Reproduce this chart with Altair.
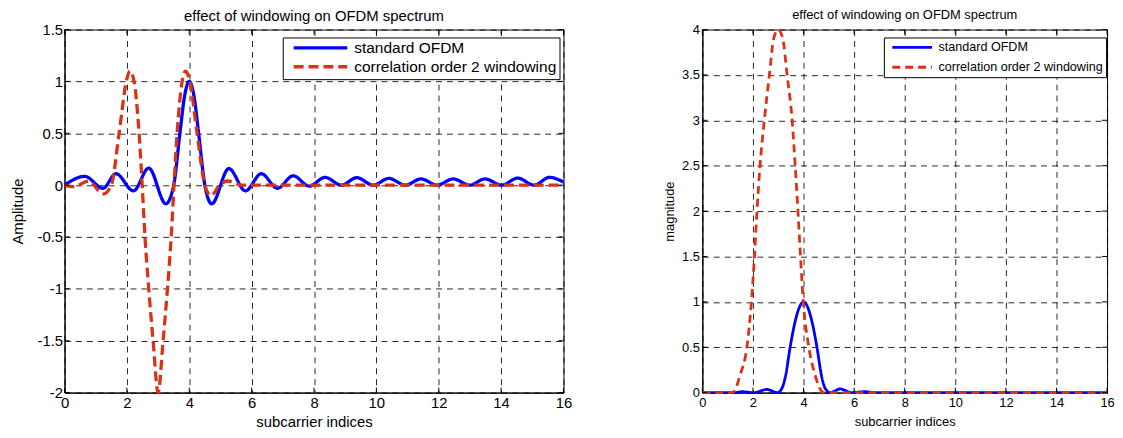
import altair as alt
import pandas as pd

SERIES = ["standard OFDM", "correlation order 2 windowing"]
COLORS = ["#0000ff", "#dc3214"]
FONT = "Liberation Sans"

x_ticks = [0, 2, 4, 6, 8, 10, 12, 14, 16]
left_y_ticks = [-2, -1.5, -1, -0.5, 0, 0.5, 1, 1.5]
right_y_ticks = [0, 0.5, 1, 1.5, 2, 2.5, 3, 3.5, 4]

# ---- left panel: Amplitude ----
left_std_x = [0.0, 0.65, 1.23, 1.65, 2.21, 2.7, 3.25, 3.5, 3.7, 3.85, 4.0, 4.15, 4.3, 4.5,
              4.72, 5.27, 5.8, 6.31, 6.83, 7.33, 7.85, 8.35, 8.88, 9.37, 9.9, 10.4, 10.93,
              11.43, 11.95, 12.46, 13.0, 13.48, 14.02, 14.53, 15.06, 15.55, 16.0]
left_std_y = [0.0, 0.085, -0.03, 0.11, -0.055, 0.165, -0.18, 0.0, 0.5, 0.86, 1.0, 0.86, 0.5, 0.0,
              -0.18, 0.16, -0.055, 0.11, -0.03, 0.09, -0.01, 0.075, 0.0, 0.072, 0.0, 0.065, 0.0,
              0.06, 0.0, 0.06, 0.0, 0.06, 0.0, 0.068, 0.0, 0.075, 0.03]
left_win_x = [0.0, 0.3, 0.77, 1.24, 1.5, 1.75, 1.98, 2.1, 2.23, 2.39, 2.49, 2.58, 2.7, 2.84, 3.0,
              3.16, 3.3, 3.42, 3.51, 3.61, 3.77, 3.88, 4.02, 4.25, 4.5, 4.7, 4.97, 5.22, 5.7,
              6.3, 16.0]
left_win_y = [0.0, -0.015, 0.04, -0.085, 0.0, 0.5, 1.0, 1.1, 1.0, 0.5, 0.0, -0.5, -1.0, -1.5, -2.0,
              -1.5, -1.0, -0.5, 0.0, 0.5, 1.0, 1.1, 1.0, 0.5, 0.0, -0.1, 0.0, 0.04, 0.0,
              0.0, 0.0]

# ---- right panel: magnitude ----
right_std_x = [0.0, 1.3, 1.55, 2.05, 2.55, 2.97, 3.15, 3.3, 3.47, 3.7, 3.85, 4.0, 4.15, 4.3, 4.53,
               4.7, 4.85, 5.05, 5.45, 5.9, 6.4, 6.9, 16.0]
right_std_y = [0.0, 0.0, 0.01, 0.0, 0.035, 0.0, 0.05, 0.2, 0.5, 0.82, 0.95, 1.0, 0.95, 0.82, 0.5,
               0.2, 0.05, 0.0, 0.04, 0.0, 0.01, 0.0, 0.0]
right_win_x = [0.0, 1.0, 1.2, 1.5, 1.76, 1.94, 2.06, 2.16, 2.28, 2.45, 2.65, 2.82, 3.0, 3.18, 3.35,
               3.55, 3.67, 3.78, 3.88, 3.99, 4.21, 4.45, 4.8, 16.0]
right_win_y = [0.0, 0.0, 0.0, 0.2, 0.5, 1.0, 1.5, 2.0, 2.5, 3.0, 3.5, 3.9, 4.0, 3.9, 3.5,
               3.0, 2.5, 2.0, 1.5, 1.0, 0.5, 0.2, 0.0, 0.0]


def make_panel(std_x, std_y, win_x, win_y, yticks, ydom, ytitle, W, H, fs, title_fs,
               title_off, lw, dash, grid_dash, leg_x, leg_y, leg_fs, sym_len, clip_h,
               row_pad, leg_pad, sym_off, y_title_pad, x_lab_pad, x_title_pad, y_lab_pad):
    d_std = pd.DataFrame({"x": std_x, "y": std_y, "series": SERIES[0]})
    d_win = pd.DataFrame({"x": win_x, "y": win_y, "series": SERIES[1]})
    xs = alt.Scale(domain=[0, 16], nice=False, zero=False)
    ys = alt.Scale(domain=ydom, nice=False, zero=False)
    legend = alt.Legend(
        title=None, orient="none", legendX=leg_x, legendY=leg_y, direction="vertical",
        strokeColor="black", fillColor="white", padding=leg_pad, symbolType="stroke",
        symbolSize=sym_len * sym_len, symbolStrokeWidth=lw, clipHeight=clip_h,
        rowPadding=row_pad, labelFont=FONT, labelFontSize=leg_fs, labelColor="black",
        labelOffset=5, labelLimit=0, symbolOffset=sym_off,
    )
    color = alt.Color("series:N", scale=alt.Scale(domain=SERIES, range=COLORS), legend=legend)
    dash_enc = alt.StrokeDash("series:N",
                              scale=alt.Scale(domain=SERIES, range=[[1, 0], dash]),
                              legend=legend)
    common_axis = dict(grid=True, gridColor="#000", gridDash=grid_dash, gridWidth=1,
                       gridOpacity=0.85, ticks=False, domain=True, domainColor="#000",
                       domainWidth=1, labelFont=FONT, labelFontSize=fs, labelColor="#000",
                       labelExpr="'' + datum.value", titleFont=FONT, titleFontSize=fs,
                       titleFontWeight="normal", titleColor="#000", labelFlush=False,
                       labelOverlap=False)
    xaxis = alt.Axis(values=x_ticks, title="subcarrier indices", labelPadding=x_lab_pad,
                     titlePadding=x_title_pad, **common_axis)
    yaxis = alt.Axis(values=yticks, title=ytitle, labelPadding=y_lab_pad,
                     titlePadding=y_title_pad, **common_axis)

    std_line = alt.Chart(d_std).mark_line(interpolate="monotone", strokeWidth=lw).encode(
        x=alt.X("x:Q", scale=xs, axis=xaxis),
        y=alt.Y("y:Q", scale=ys, axis=yaxis),
        color=color, strokeDash=dash_enc,
    )
    win_line = alt.Chart(d_win).mark_line(interpolate="monotone", strokeWidth=lw).encode(
        x=alt.X("x:Q", scale=xs, axis=xaxis),
        y=alt.Y("y:Q", scale=ys, axis=yaxis),
        color=color, strokeDash=dash_enc,
    )
    xt = pd.DataFrame({"x": x_ticks})
    yt = pd.DataFrame({"y": yticks})
    tick_top = alt.Chart(xt).mark_rule(color="black", strokeWidth=1).encode(
        x=alt.X("x:Q", scale=xs, axis=xaxis), y=alt.value(0), y2=alt.value(5))
    tick_bot = alt.Chart(xt).mark_rule(color="black", strokeWidth=1).encode(
        x=alt.X("x:Q", scale=xs, axis=xaxis), y=alt.value(H), y2=alt.value(H - 5))
    tick_left = alt.Chart(yt).mark_rule(color="black", strokeWidth=1).encode(
        y=alt.Y("y:Q", scale=ys, axis=yaxis), x=alt.value(0), x2=alt.value(5))
    tick_right = alt.Chart(yt).mark_rule(color="black", strokeWidth=1).encode(
        y=alt.Y("y:Q", scale=ys, axis=yaxis), x=alt.value(W), x2=alt.value(W - 5))

    return alt.layer(std_line, win_line, tick_top, tick_bot, tick_left, tick_right).properties(
        width=W, height=H,
        title=alt.TitleParams("effect of windowing on OFDM spectrum", font=FONT,
                              fontSize=title_fs, fontWeight="normal", color="black",
                              anchor="middle", offset=title_off, frame="group"),
    )


left = make_panel(left_std_x, left_std_y, left_win_x, left_win_y, left_y_ticks, [-2, 1.5],
                  "Amplitude", W=503, H=366, fs=15, title_fs=15, title_off=-1, lw=3.3,
                  dash=[10, 5], grid_dash=[6, 5], leg_x=220, leg_y=8, leg_fs=15.6, sym_len=54,
                  clip_h=15, row_pad=2, leg_pad=3, sym_off=6, y_title_pad=12, x_lab_pad=3,
                  x_title_pad=4, y_lab_pad=2)
right = make_panel(right_std_x, right_std_y, right_win_x, right_win_y, right_y_ticks, [0, 4],
                   "magnitude", W=408, H=366, fs=13, title_fs=13, title_off=2, lw=2.8,
                   dash=[8, 5], grid_dash=[6, 5], leg_x=183, leg_y=8, leg_fs=12.7, sym_len=40,
                   clip_h=14, row_pad=6, leg_pad=3, sym_off=4, y_title_pad=5, x_lab_pad=4,
                   x_title_pad=6.5, y_lab_pad=3)

chart = alt.hconcat(left, right, spacing=91).resolve_scale(
    color="independent", strokeDash="independent"
).resolve_legend(
    color="independent", strokeDash="independent"
).properties(
    padding={"left": 1, "top": -2, "right": 0, "bottom": 0}
).configure_view(stroke="black", strokeWidth=1)

chart.save("out.html", embed_options={"renderer": "svg", "actions": False})
